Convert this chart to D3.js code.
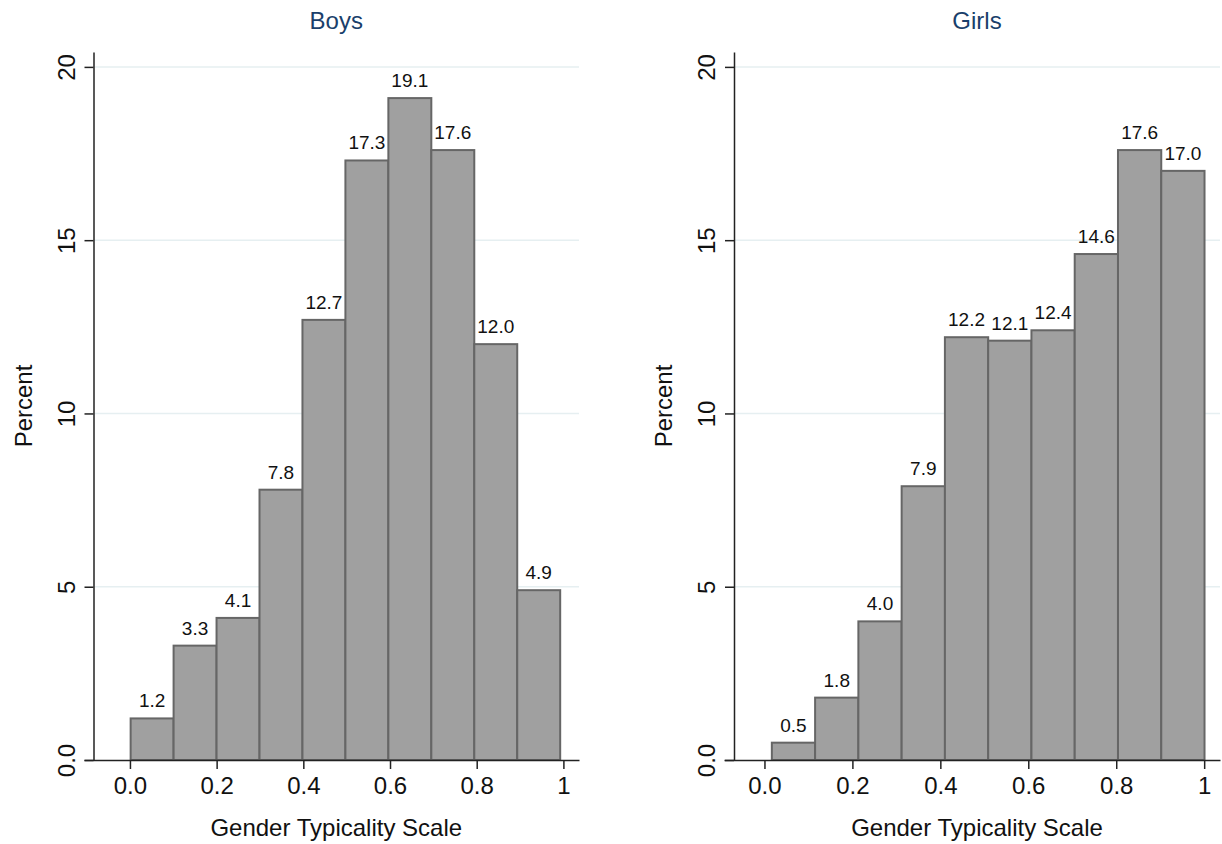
<!DOCTYPE html>
<html>
<head>
<meta charset="utf-8">
<script src="https://cdn.jsdelivr.net/npm/d3@7"></script>
<style>
  body { margin: 0; background: #fff; }
  svg { display: block; font-family: "Liberation Sans", Arial, Helvetica, sans-serif; }
</style>
</head>
<body>
<svg id="chart"></svg>
<script>
const width = 1222, height = 844;

// Histogram data (percent per bin)
const panelTitles = ["Boys", "Girls"];
const boysPct = [1.2, 3.3, 4.1, 7.8, 12.7, 17.3, 19.1, 17.6, 12.0, 4.9];
const girlsPct = [0.5, 1.8, 4.0, 7.9, 12.2, 12.1, 12.4, 14.6, 17.6, 17.0];
const binStarts = [0.0016, 0.0168];   // left edge of first bin per panel
const binWidths = [0.0991, 0.0984];   // bin width per panel
const xTickValues = [0, 0.2, 0.4, 0.6, 0.8, 1];
const xTickLabels = ["0.0", "0.2", "0.4", "0.6", "0.8", "1"];
const yTickValues = [0, 5, 10, 15, 20];
const yTickLabels = ["0.0", "5", "10", "15", "20"];
const xTitle = "Gender Typicality Scale";
const yTitle = "Percent";

// Layout of the two panels
const panels = [
    { left: 93.5, right: 579, xDomain: [-0.106, 1.036], axisLeftX: 84 },
    { left: 734, right: 1220, xDomain: [-0.092, 1.036], axisLeftX: 724 }
];
const plotTop = 52, plotBottom = 760;

const svg = d3.select("#chart")
    .attr("width", width)
    .attr("height", height)
    .attr("viewBox", [0, 0, width, height]);

const yScale = d3.scaleLinear().domain([0, 20.43]).range([plotBottom, plotTop]);

[boysPct, girlsPct].forEach((values, p) => {
    const layout = panels[p];
    const g = svg.append("g");

    const xScale = d3.scaleLinear()
        .domain(layout.xDomain)
        .range([layout.axisLeftX, layout.right]);

    const bins = values.map((v, i) => ({
        x0: binStarts[p] + i * binWidths[p],
        x1: binStarts[p] + (i + 1) * binWidths[p],
        value: v
    }));

    // Gridlines
    g.append("g")
        .selectAll("line")
        .data(yTickValues.filter(d => d > 0))
        .join("line")
        .attr("x1", layout.left + 1)
        .attr("x2", layout.right)
        .attr("y1", d => yScale(d))
        .attr("y2", d => yScale(d))
        .attr("stroke", "#e6eff1")
        .attr("stroke-width", 1.5);

    // Bars
    g.append("g")
        .selectAll("rect")
        .data(bins)
        .join("rect")
        .attr("x", d => xScale(d.x0))
        .attr("width", d => xScale(d.x1) - xScale(d.x0))
        .attr("y", d => yScale(d.value))
        .attr("height", d => yScale(0) - yScale(d.value))
        .attr("fill", "#a0a0a0")
        .attr("stroke", "#666")
        .attr("stroke-width", 2);

    // Bar labels
    g.append("g")
        .selectAll("text")
        .data(bins)
        .join("text")
        .attr("x", d => (xScale(d.x0) + xScale(d.x1)) / 2)
        .attr("y", d => yScale(d.value) - 11)
        .attr("text-anchor", "middle")
        .attr("font-size", 19)
        .attr("fill", "#111")
        .text(d => d.value.toFixed(1));

    // X axis
    const xAxis = g.append("g")
        .attr("transform", `translate(0,${plotBottom})`)
        .call(d3.axisBottom(xScale)
            .tickValues(xTickValues)
            .tickFormat((d, i) => xTickLabels[i])
            .tickSize(9)
            .tickSizeOuter(0));
    xAxis.select(".domain").attr("stroke", "#222").attr("stroke-width", 1.5);
    xAxis.selectAll(".tick line").attr("stroke", "#222").attr("stroke-width", 1.5);
    xAxis.selectAll(".tick text")
        .attr("y", 34)
        .attr("dy", 0)
        .attr("font-size", 24)
        .attr("fill", "#111");

    // Y axis
    const yAxis = g.append("g")
        .attr("transform", `translate(${layout.left},0)`)
        .call(d3.axisLeft(yScale)
            .tickValues(yTickValues)
            .tickFormat((d, i) => yTickLabels[i])
            .tickSize(9)
            .tickSizeOuter(0));
    yAxis.select(".domain").attr("stroke", "#222").attr("stroke-width", 1.5);
    yAxis.selectAll(".tick line").attr("stroke", "#222").attr("stroke-width", 1.5);
    yAxis.selectAll(".tick text")
        .attr("transform", "rotate(-90)")
        .attr("x", 0)
        .attr("y", -19)
        .attr("dy", 0)
        .attr("text-anchor", "middle")
        .attr("font-size", 24)
        .attr("fill", "#111");

    const centerX = (layout.left + layout.right) / 2;

    // Panel title
    g.append("text")
        .attr("x", centerX)
        .attr("y", 29)
        .attr("text-anchor", "middle")
        .attr("font-size", 24)
        .attr("fill", "#1a3f6b")
        .text(panelTitles[p]);

    // Axis titles
    g.append("text")
        .attr("x", centerX)
        .attr("y", 836)
        .attr("text-anchor", "middle")
        .attr("font-size", 24)
        .attr("fill", "#111")
        .text(xTitle);

    g.append("text")
        .attr("transform", `translate(${layout.left - 62},${(plotTop + plotBottom) / 2}) rotate(-90)`)
        .attr("text-anchor", "middle")
        .attr("font-size", 24)
        .attr("fill", "#111")
        .text(yTitle);
});
</script>
</body>
</html>
